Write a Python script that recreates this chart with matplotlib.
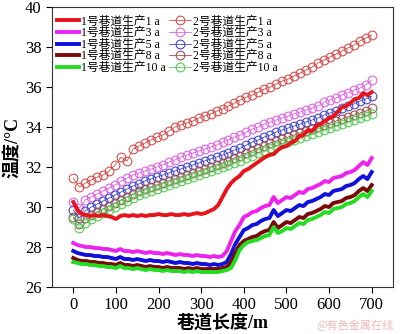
import numpy as np
import matplotlib
matplotlib.use("Agg")
import matplotlib.pyplot as plt

plt.rcParams['font.family'] = ['Liberation Serif', 'Noto Sans CJK SC']
plt.rcParams['mathtext.fontset'] = 'stix'

# ---- data ----
x_line = list(range(0, 701, 10))
x_circ = list(range(0, 701, 14))

line_1a = [30.25, 29.85, 29.65, 29.6, 29.55, 29.6, 29.55, 29.6, 29.55, 29.5,
           29.4, 29.55, 29.6, 29.55, 29.6, 29.55, 29.6, 29.55, 29.6, 29.6,
           29.65, 29.6, 29.6, 29.65, 29.6, 29.6, 29.65, 29.6, 29.65, 29.7,
           29.65, 29.7, 29.8, 29.9, 30.1, 30.5, 30.9, 31.2, 31.4, 31.55,
           31.8, 31.9, 32.05, 32.2, 32.35, 32.5, 32.6, 32.65, 32.85, 33.0,
           33.05, 33.2, 33.3, 33.55, 33.6, 33.85, 33.8, 34.05, 34.15, 34.3,
           34.45, 34.55, 34.75, 35.0, 35.05, 35.2, 35.4, 35.45, 35.7, 35.6,
           35.75]
line_3a = [28.2, 28.1, 28.05, 28.0, 28.0, 27.95, 27.95, 27.9, 27.9, 27.85,
           27.8, 27.9, 27.8, 27.8, 27.75, 27.8, 27.75, 27.7, 27.75, 27.7,
           27.7, 27.65, 27.7, 27.65, 27.6, 27.65, 27.6, 27.6, 27.55, 27.6,
           27.55, 27.55, 27.5, 27.55, 27.5, 27.55, 27.8, 28.3, 28.8, 29.1,
           29.5, 29.6, 29.75, 29.8, 29.95, 30.05, 30.1, 30.5, 30.2, 30.35,
           30.5, 30.45, 30.6, 30.75, 30.7, 30.9, 30.95, 31.05, 31.15, 31.3,
           31.25, 31.45, 31.5, 31.55, 31.7, 31.75, 31.85, 32.05, 32.25, 32.1,
           32.45]
line_5a = [27.8, 27.7, 27.65, 27.6, 27.6, 27.55, 27.55, 27.5, 27.5, 27.45,
           27.4, 27.5, 27.4, 27.4, 27.35, 27.4, 27.35, 27.3, 27.35, 27.3,
           27.3, 27.25, 27.3, 27.25, 27.2, 27.25, 27.2, 27.2, 27.15, 27.2,
           27.15, 27.15, 27.1, 27.15, 27.1, 27.15, 27.25, 27.65, 28.15, 28.5,
           28.85, 28.95, 29.1, 29.15, 29.3, 29.4, 29.45, 29.85, 29.55, 29.7,
           29.85, 29.8, 29.95, 30.1, 30.05, 30.25, 30.3, 30.4, 30.5, 30.65,
           30.6, 30.8, 30.85, 30.9, 31.05, 31.1, 31.2, 31.4, 31.55, 31.4,
           31.75]
line_8a = [27.45, 27.35, 27.3, 27.3, 27.25, 27.25, 27.2, 27.2, 27.15, 27.15,
           27.1, 27.2, 27.1, 27.1, 27.05, 27.1, 27.05, 27.0, 27.05, 27.0,
           27.0, 26.95, 27.0, 26.95, 26.95, 26.95, 26.9, 26.95, 26.9, 26.95,
           26.9, 26.9, 26.9, 26.9, 26.9, 26.95, 27.0, 27.25, 27.7, 28.1,
           28.3, 28.4, 28.5, 28.55, 28.7, 28.8, 28.85, 29.25, 28.95, 29.1,
           29.25, 29.2, 29.35, 29.5, 29.45, 29.65, 29.7, 29.8, 29.9, 30.05,
           30.0, 30.2, 30.25, 30.3, 30.45, 30.5, 30.6, 30.8, 30.95, 30.8,
           31.1]
line_10a = [27.25, 27.2, 27.15, 27.15, 27.1, 27.1, 27.05, 27.05, 27.0, 27.0,
            26.95, 27.05, 26.95, 26.95, 26.9, 26.95, 26.9, 26.85, 26.9, 26.85,
            26.85, 26.8, 26.85, 26.8, 26.8, 26.8, 26.75, 26.8, 26.75, 26.8,
            26.75, 26.75, 26.75, 26.75, 26.75, 26.8, 26.85, 26.95, 27.35, 27.85,
            28.1, 28.25, 28.3, 28.35, 28.45, 28.55, 28.6, 29.0, 28.7, 28.8,
            28.95, 28.9, 29.05, 29.2, 29.15, 29.35, 29.4, 29.5, 29.6, 29.75,
            29.7, 29.9, 29.95, 30.0, 30.15, 30.2, 30.3, 30.5, 30.65, 30.5,
            30.8]

circ_1a = [31.45, 31.0, 31.2, 31.35, 31.5, 31.6, 31.8, 32.1, 32.5, 32.3,
           32.9, 33.05, 33.2, 33.35, 33.5, 33.6, 33.8, 34.0, 34.1, 34.2,
           34.3, 34.45, 34.55, 34.65, 34.8, 34.9, 35.05, 35.2, 35.35, 35.5,
           35.6, 35.75, 35.9, 36.0, 36.15, 36.3, 36.4, 36.55, 36.7, 36.85,
           37.0, 37.2, 37.35, 37.5, 37.65, 37.8, 37.95, 38.1, 38.3, 38.45,
           38.6]
circ_3a = [30.25, 29.95, 30.35, 30.5, 30.65, 30.8, 30.95, 31.1, 31.3, 31.45,
           31.6, 31.7, 31.8, 31.9, 32.0, 32.1, 32.25, 32.35, 32.5, 32.6,
           32.7, 32.8, 32.9, 33.0, 33.1, 33.25, 33.35, 33.5, 33.6, 33.75,
           33.9, 34.0, 34.15, 34.25, 34.35, 34.45, 34.55, 34.65, 34.75, 34.85,
           34.95, 35.05, 35.25, 35.35, 35.45, 35.6, 35.7, 35.85, 35.95, 36.1,
           36.35]
circ_5a = [29.85, 29.45, 29.8, 30.0, 30.15, 30.3, 30.45, 30.6, 30.75, 30.9,
           31.05, 31.15, 31.3, 31.4, 31.5, 31.6, 31.7, 31.8, 31.9, 32.0,
           32.1, 32.2, 32.3, 32.4, 32.5, 32.6, 32.7, 32.85, 32.95, 33.1,
           33.25, 33.35, 33.5, 33.6, 33.75, 33.85, 33.95, 34.05, 34.15, 34.25,
           34.35, 34.45, 34.6, 34.7, 34.8, 34.95, 35.05, 35.15, 35.3, 35.4,
           35.55]
circ_8a = [29.5, 29.15, 29.45, 29.6, 29.75, 29.9, 30.05, 30.2, 30.35, 30.5,
           30.65, 30.8, 30.9, 31.0, 31.1, 31.2, 31.3, 31.4, 31.5, 31.6,
           31.7, 31.8, 31.9, 32.0, 32.1, 32.2, 32.3, 32.45, 32.55, 32.7,
           32.8, 32.95, 33.05, 33.2, 33.3, 33.4, 33.5, 33.6, 33.7, 33.8,
           33.9, 34.0, 34.1, 34.2, 34.3, 34.4, 34.5, 34.6, 34.7, 34.8,
           34.95]
circ_10a = [29.4, 28.95, 29.2, 29.4, 29.55, 29.7, 29.85, 30.0, 30.15, 30.3,
            30.45, 30.6, 30.7, 30.8, 30.9, 31.0, 31.1, 31.2, 31.3, 31.4,
            31.5, 31.6, 31.7, 31.8, 31.9, 32.0, 32.1, 32.2, 32.3, 32.45,
            32.55, 32.7, 32.8, 32.95, 33.05, 33.15, 33.25, 33.35, 33.45, 33.55,
            33.65, 33.75, 33.85, 33.95, 34.05, 34.15, 34.25, 34.35, 34.45, 34.55,
            34.65]

years = ['1', '3', '5', '8', '10']
line_series = [line_1a, line_3a, line_5a, line_8a, line_10a]
circ_series = [circ_1a, circ_3a, circ_5a, circ_8a, circ_10a]
line_colors = ['#e8141c', '#ee22ee', '#1010dd', '#7a0a0a', '#22dd22']
circ_colors = ['#d45050', '#dd66dd', '#4848c8', '#a05050', '#55cc55']
x_ticks = [0, 100, 200, 300, 400, 500, 600, 700]
y_ticks = [26, 28, 30, 32, 34, 36, 38, 40]

fig = plt.figure(figsize=(4.0, 3.34), dpi=100)
ax = fig.add_axes([0.13, 0.1407, 0.8525, 0.838])

circ_handles = []
for yr, d, c in zip(years, circ_series, circ_colors):
    h, = ax.plot(x_circ, d, color=c, lw=0.6, marker='o', markersize=6.3,
                 markerfacecolor='none', markeredgewidth=0.8, zorder=2)
    circ_handles.append(h)
line_handles = []
for yr, d, c in zip(years, line_series, line_colors):
    h, = ax.plot(x_line, d, color=c, lw=2.8, zorder=3)
    line_handles.append(h)

ax.set_xlim(-50, 750)
ax.set_ylim(26, 40)
ax.set_xticks(x_ticks)
ax.set_yticks(y_ticks)
ax.tick_params(axis='both', direction='out', labelsize=12, length=4, width=0.8,
               top=False, right=False)
for s in ax.spines.values():
    s.set_linewidth(0.8)
    s.set_color('#333333')

ax.set_xlabel('巷道长度/m', fontsize=13, fontweight='bold', labelpad=1)
ax.set_ylabel('温度/°C', fontsize=13, fontweight='bold', labelpad=2)

leg_h = []
leg_l = []
for yr, h in zip(years, line_handles):
    leg_h.append(h)
    leg_l.append('1号巷道生产' + yr + ' a')
for yr, h in zip(years, circ_handles):
    leg_h.append(h)
    leg_l.append('2号巷道生产' + yr + ' a')

ax.legend(leg_h, leg_l, ncol=2, loc='upper left', bbox_to_anchor=(-0.005, 0.995),
          frameon=False, fontsize=8.5, handlelength=1.8, handletextpad=0.2,
          columnspacing=0.3, labelspacing=-0.04, borderaxespad=0.2)

fig.text(0.985, 0.01, '@有色金属在线', ha='right', va='bottom', fontsize=8,
         color='#f0b8b8', family=['Noto Sans CJK SC'])

fig.savefig('out.png', dpi=100)
